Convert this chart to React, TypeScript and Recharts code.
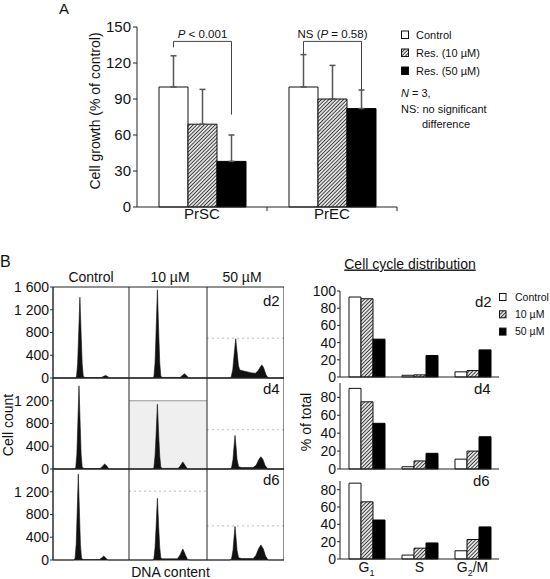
import React from 'react';
import {
  BarChart, Bar, XAxis, YAxis, ErrorBar, LabelList,
  AreaChart, Area, ReferenceLine, ReferenceArea,
} from 'recharts';

const FONT = '"Liberation Sans", Arial, Helvetica, sans-serif';

// ---------- Panel A data ----------
const cellLines = ['PrSC', 'PrEC'];
const growthControl = [100, 100];
const growthControlErr = [26, 27];
const growthRes10 = [69, 90];
const growthRes10Err = [29, 28];
const growthRes50 = [38, 82];
const growthRes50Err = [22, 15.5];
const growthTicks = [0, 30, 60, 90, 120, 150];
const bracketTop = [138, 138];
const bracketLeftEnd = [133, 127];
const bracketRightEnd = [77, 97.5];
const bracketPrefix = ['', 'NS ('];
const bracketItalic = ['P', 'P'];
const bracketRest = [' < 0.001', ' = 0.58)'];

// ---------- Panel B flow histograms: [DNA channel, cell count] ----------
const flowCtrlD2: [number, number][] = [[0,0],[29.5,0],[31,30],[32.4,250],[33.6,700],[35.4,1420],[37.2,700],[38.4,250],[39.8,30],[42,8],[63.5,8],[66,25],[69.2,45],[72,25],[74.5,0],[100,0]];
const flowRes10D2: [number, number][] = [[0,0],[30.5,0],[32,30],[33.4,270],[34.6,760],[36.4,1550],[38.2,760],[39.4,270],[40.8,30],[43,10],[65.5,10],[68,40],[71,75],[74,40],[76.5,0],[100,0]];
const flowRes50D2: [number, number][] = [[0,0],[29.5,0],[31.5,20],[33.5,150],[35.3,420],[37.3,690],[39.3,420],[40.8,220],[42.5,140],[50,115],[58,90],[63,85],[66.5,130],[69.5,200],[71.4,230],[73.5,180],[76.5,60],[79,10],[82,0],[100,0]];
const flowCtrlD4: [number, number][] = [[0,0],[28.5,0],[30,30],[31.4,260],[32.5,720],[34.2,1463],[35.9,720],[37,260],[38.4,30],[41,8],[62,8],[65,45],[68,90],[71,50],[73.5,0],[100,0]];
const flowRes10D4: [number, number][] = [[0,0],[30.5,0],[32,30],[33.4,230],[34.6,560],[36.4,1138],[38.2,560],[39.4,230],[40.8,30],[43,10],[63,10],[66,60],[69,125],[72,60],[75,0],[100,0]];
const flowRes50D4: [number, number][] = [[0,0],[30,0],[32,30],[33.8,170],[35,380],[36.4,590],[37.8,380],[39,170],[41,40],[45,25],[60,25],[64,70],[67.5,170],[70,215],[72.5,170],[75.5,60],[79,0],[100,0]];
const flowCtrlD6: [number, number][] = [[0,0],[27.5,0],[29,30],[30.5,270],[31.6,740],[33.3,1510],[35,740],[36.1,270],[37.5,30],[40,8],[61,8],[64,35],[66.7,70],[69.5,35],[72,0],[100,0]];
const flowRes10D6: [number, number][] = [[0,0],[30.5,0],[32,30],[33.4,220],[34.6,540],[36.4,1085],[38.2,540],[39.4,220],[40.8,35],[43,20],[62,20],[65.5,90],[69,195],[72,100],[75,10],[78,0],[100,0]];
const flowRes50D6: [number, number][] = [[0,0],[30,0],[32,30],[33.8,170],[35,380],[36.4,590],[37.8,380],[39,170],[41,40],[45,25],[60,25],[63.5,80],[67,200],[70,265],[73,200],[76,70],[79.5,0],[100,0]];
const flowGrid = [
  [flowCtrlD2, flowRes10D2, flowRes50D2],
  [flowCtrlD4, flowRes10D4, flowRes50D4],
  [flowCtrlD6, flowRes10D6, flowRes50D6],
];
const flowGates: (number | null)[][] = [
  [null, null, 700],
  [null, 1200, 690],
  [null, 1210, 600],
];
const flowHeaders = ['Control', '10 µM', '50 µM'];
const dayLabels = ['d2', 'd4', 'd6'];
const flowTicksTop = [0, 400, 800, 1200, 1600];
const flowTicks = [0, 400, 800, 1200];

// ---------- Panel B cell-cycle distribution (% of total) ----------
const phases = ['G1', 'S', 'G2/M'];
const d2Control = [93, 2, 6];
const d2Res10 = [91, 2.5, 7.5];
const d2Res50 = [44, 25, 31.5];
const d4Control = [90, 2.5, 11];
const d4Res10 = [75, 9, 20];
const d4Res50 = [51, 17.5, 36];
const d6Control = [87.5, 4.5, 9.5];
const d6Res10 = [66, 12.5, 22.5];
const d6Res50 = [45, 18.5, 37];
const cycleTicksTop = [0, 20, 40, 60, 80, 100];
const cycleTicks = [0, 20, 40, 60, 80];

// ---------- helpers ----------
const fmtCount = (n: number) => (n >= 1000 ? `${Math.floor(n / 1000)} ${String(n % 1000).padStart(3, '0')}` : String(n));

function Hatch({ id }: { id: string }) {
  return (
    <pattern id={id} patternUnits="userSpaceOnUse" width={2.6} height={2.6} patternTransform="rotate(45)">
      <rect width={2.6} height={2.6} fill="#fff" />
      <line x1={1.3} y1={0} x2={1.3} y2={2.6} stroke="#333" strokeWidth={1.1} />
    </pattern>
  );
}

const GroupTick = (props: any) => {
  const { x, y, payload } = props;
  const off = payload && payload.offset ? payload.offset : 65;
  return (
    <g>
      <text x={x} y={y} dy="0.71em" textAnchor="middle" fontSize={15} fill="#111" fontFamily={FONT}>{payload.value}</text>
      <line x1={x + off} x2={x + off} y1={y - 1} y2={y + 3} stroke="#222" />
    </g>
  );
};

const BracketLabel = (props: any) => {
  const vb = props.viewBox || props;
  const index = props.index ?? 0;
  const { x, y, width, height } = vb;
  const v = growthRes50[index];
  const k = height / v;
  const base = y + height;
  const yOf = (val: number) => base - val * k;
  const xl = x + width / 2 - 2 * width;
  const xr = x + width / 2;
  const yt = yOf(bracketTop[index]);
  return (
    <g>
      <polyline
        points={`${xl},${yOf(bracketLeftEnd[index])} ${xl},${yt} ${xr},${yt} ${xr},${yOf(bracketRightEnd[index])}`}
        fill="none" stroke="#444" strokeWidth={1}
      />
      <text x={(xl + xr) / 2} y={yt - 3} textAnchor="middle" fontSize={11.5} fill="#111" fontFamily={FONT}>
        {bracketPrefix[index]}<tspan fontStyle="italic">{bracketItalic[index]}</tspan>{bracketRest[index]}
      </text>
    </g>
  );
};

function PanelA() {
  const data = cellLines.map((name, i) => ({
    name,
    control: growthControl[i], controlErr: [0, growthControlErr[i]],
    res10: growthRes10[i], res10Err: [0, growthRes10Err[i]],
    res50: growthRes50[i], res50Err: [0, growthRes50Err[i]],
  }));
  return (
    <div style={{ position: 'absolute', left: 0, top: 0 }}>
      <BarChart width={400} height={230} data={data} margin={{ top: 27, right: 3, left: 0, bottom: 0 }} barSize={29} barGap={0}>
        <XAxis dataKey="name" height={23} tickLine={false} tickSize={0} tickMargin={1} axisLine={{ stroke: '#222' }} tick={<GroupTick />} interval={0} />
        <YAxis domain={[0, 150]} ticks={growthTicks} width={137} tickSize={4} tickMargin={2} interval={0}
          axisLine={{ stroke: '#222' }} tickLine={{ stroke: '#222' }} tick={{ fontSize: 15, fill: '#111', fontFamily: FONT }} />
        <Bar dataKey="control" fill="#fff" stroke="#111" isAnimationActive={false}>
          <ErrorBar dataKey="controlErr" width={3} stroke="#555" direction="y" />
        </Bar>
        <Bar dataKey="res10" fill="url(#hatchMain)" stroke="#111" isAnimationActive={false}>
          <ErrorBar dataKey="res10Err" width={3} stroke="#555" direction="y" />
        </Bar>
        <Bar dataKey="res50" fill="#000" stroke="#000" isAnimationActive={false}>
          <ErrorBar dataKey="res50Err" width={3} stroke="#555" direction="y" />
          <LabelList dataKey="res50" content={(p: any) => <BracketLabel {...p} />} />
        </Bar>
      </BarChart>
    </div>
  );
}

const FLOW_COLS = [
  { left: 0, width: 129, axis: true },
  { left: 129, width: 78, axis: false },
  { left: 207, width: 77, axis: false },
];
const FLOW_ROW_TOPS = [287, 378, 469];
const FLOW_H = 91;

function FlowPanel({ row, col }: { row: number; col: number }) {
  const pts = flowGrid[row][col].map(([ch, n]) => ({ ch, n }));
  const c = FLOW_COLS[col];
  const gate = flowGates[row][col];
  const shaded = row === 1 && col === 1;
  return (
    <div style={{ position: 'absolute', left: c.left, top: FLOW_ROW_TOPS[row] - 10 }}>
      <AreaChart width={c.width} height={FLOW_H + 20} data={pts} margin={{ top: 10, right: 0, left: 0, bottom: 10 }}>
        <XAxis type="number" dataKey="ch" domain={[0, 100]} hide />
        <YAxis type="number" domain={[0, 1600]} hide={!c.axis} width={53}
          ticks={row === 0 ? flowTicksTop : flowTicks} interval={0} tickFormatter={fmtCount}
          tickSize={3} tickMargin={1} axisLine={{ stroke: '#333' }} tickLine={{ stroke: '#333' }}
          tick={{ fontSize: 14, fill: '#111', fontFamily: FONT }} />
        {shaded && gate !== null && (
          <ReferenceArea x1={0} x2={100} y1={0} y2={gate} fill="#efefef" fillOpacity={1} stroke="none" />
        )}
        {gate !== null && (
          <ReferenceLine y={gate} stroke={shaded ? '#999' : '#bbb'} strokeDasharray={shaded ? undefined : '2 3'} />
        )}
        <Area type="linear" dataKey="n" fill="#111" fillOpacity={1} stroke="#111" strokeWidth={0.6} isAnimationActive={false} dot={false} />
        <ReferenceLine y={0} stroke="#222" />
        <ReferenceLine y={1600} stroke="#222" />
        <ReferenceLine x={0} stroke="#222" />
        <ReferenceLine x={100} stroke="#222" />
      </AreaChart>
    </div>
  );
}

const PhaseTick = (props: any) => {
  const { x, y, payload } = props;
  const label: string = payload.value;
  const m = label.match(/^([A-Z])(\d?)(.*)$/);
  const main = m ? m[1] : label;
  const sub = m ? m[2] : '';
  const rest = m ? m[3] : '';
  return (
    <text x={x} y={y} dy="0.71em" textAnchor="middle" fontSize={14} fill="#111" fontFamily={FONT}>
      {main}
      {sub && <tspan fontSize={9} dy={4}>{sub}</tspan>}
      {rest && <tspan fontSize={14} dy={sub ? -4 : 0}>{rest}</tspan>}
    </text>
  );
};

function CyclePanel({ control, res10, res50, plotTop, plotHeight, domainMax, ticks, showLabels }:
  { control: number[]; res10: number[]; res50: number[]; plotTop: number; plotHeight: number; domainMax: number; ticks: number[]; showLabels: boolean }) {
  const data = phases.map((phase, i) => ({ phase, control: control[i], res10: res10[i], res50: res50[i] }));
  const xh = showLabels ? 20 : 1;
  const mb = showLabels ? 0 : 8;
  return (
    <div style={{ position: 'absolute', left: 300, top: plotTop - 10 }}>
      <BarChart width={200} height={10 + plotHeight + xh + mb} data={data} margin={{ top: 10, right: 1, left: 0, bottom: mb }} barSize={12} barGap={0}>
        <XAxis dataKey="phase" height={xh} tickLine={false} tickSize={0} tickMargin={3} interval={0}
          axisLine={{ stroke: '#222' }} tick={showLabels ? <PhaseTick /> : false} />
        <YAxis domain={[0, domainMax]} ticks={ticks} interval={0} width={40} tickSize={3} tickMargin={1}
          axisLine={{ stroke: '#222' }} tickLine={{ stroke: '#222' }} tick={{ fontSize: 14, fill: '#111', fontFamily: FONT }} />
        <Bar dataKey="control" fill="#fff" stroke="#111" isAnimationActive={false} />
        <Bar dataKey="res10" fill="url(#hatchMain)" stroke="#111" isAnimationActive={false} />
        <Bar dataKey="res50" fill="#000" stroke="#000" isAnimationActive={false} />
      </BarChart>
    </div>
  );
}

function Overlay() {
  const legendA = ['Control', 'Res. (10 µM)', 'Res. (50 µM)'];
  const legendB = ['Control', '10 µM', '50 µM'];
  const fills = ['#fff', 'url(#hatchMain)', '#000'];
  return (
    <svg width={550} height={579} style={{ position: 'absolute', left: 0, top: 0, pointerEvents: 'none' }} fontFamily={FONT} fill="#111">
      <defs>
        <Hatch id="hatchMain" />
      </defs>
      {/* Panel A */}
      <text x={59} y={13.5} fontSize={15}>A</text>
      <text transform="translate(100,111) rotate(-90)" textAnchor="middle" fontSize={14}>Cell growth (% of control)</text>
      {legendA.map((t, i) => (
        <g key={t}>
          <rect x={401.5} y={31 + i * 18} width={7} height={7.5} fill={fills[i]} stroke="#111" />
          <text x={416} y={39 + i * 18} fontSize={11}>{t}</text>
        </g>
      ))}
      <text x={401} y={97} fontSize={11}><tspan fontStyle="italic">N</tspan> = 3,</text>
      <text x={401} y={113} fontSize={11}>NS: no significant</text>
      <text x={422} y={128} fontSize={11}>difference</text>

      {/* Panel B flow */}
      <text x={0} y={266.5} fontSize={16}>B</text>
      {flowHeaders.map((h, i) => (
        <text key={h} x={[91, 170, 242][i]} y={282} textAnchor="middle" fontSize={14}>{h}</text>
      ))}
      <text transform="translate(12.5,425) rotate(-90)" textAnchor="middle" fontSize={14}>Cell count</text>
      <text x={170.5} y={576.5} textAnchor="middle" fontSize={14}>DNA content</text>
      {dayLabels.map((d, i) => (
        <text key={'f' + d} x={263} y={[306, 393.5, 484.5][i]} fontSize={15}>{d}</text>
      ))}

      {/* Panel B distribution */}
      <text x={410} y={268.5} textAnchor="middle" fontSize={14} textDecoration="underline">Cell cycle distribution</text>
      {legendB.map((t, i) => (
        <g key={'b' + t}>
          <rect x={499.5} y={293.5 + i * 17.3} width={6.5} height={7} fill={fills[i]} stroke="#111" />
          <text x={515} y={300.7 + i * 17.3} fontSize={10.5}>{t}</text>
        </g>
      ))}
      {dayLabels.map((d, i) => (
        <text key={'c' + d} x={[475, 474, 473][i]} y={[307, 394, 486][i]} fontSize={15}>{d}</text>
      ))}
      <text transform="translate(310.5,422) rotate(-90)" textAnchor="middle" fontSize={14}>% of total</text>
    </svg>
  );
}

export default function App() {
  return (
    <div style={{ position: 'absolute', left: 0, top: 0, width: 550, height: 579, background: '#fff', overflow: 'hidden', fontFamily: FONT }}>
      <PanelA />
      {[0, 1, 2].map((r) => [0, 1, 2].map((c) => <FlowPanel key={`${r}-${c}`} row={r} col={c} />))}
      <CyclePanel control={d2Control} res10={d2Res10} res50={d2Res50} plotTop={291} plotHeight={86} domainMax={100} ticks={cycleTicksTop} showLabels={false} />
      <CyclePanel control={d4Control} res10={d4Res10} res50={d4Res50} plotTop={383} plotHeight={86} domainMax={96} ticks={cycleTicks} showLabels={false} />
      <CyclePanel control={d6Control} res10={d6Res10} res50={d6Res50} plotTop={481} plotHeight={78} domainMax={90} ticks={cycleTicks} showLabels={true} />
      <Overlay />
    </div>
  );
}
